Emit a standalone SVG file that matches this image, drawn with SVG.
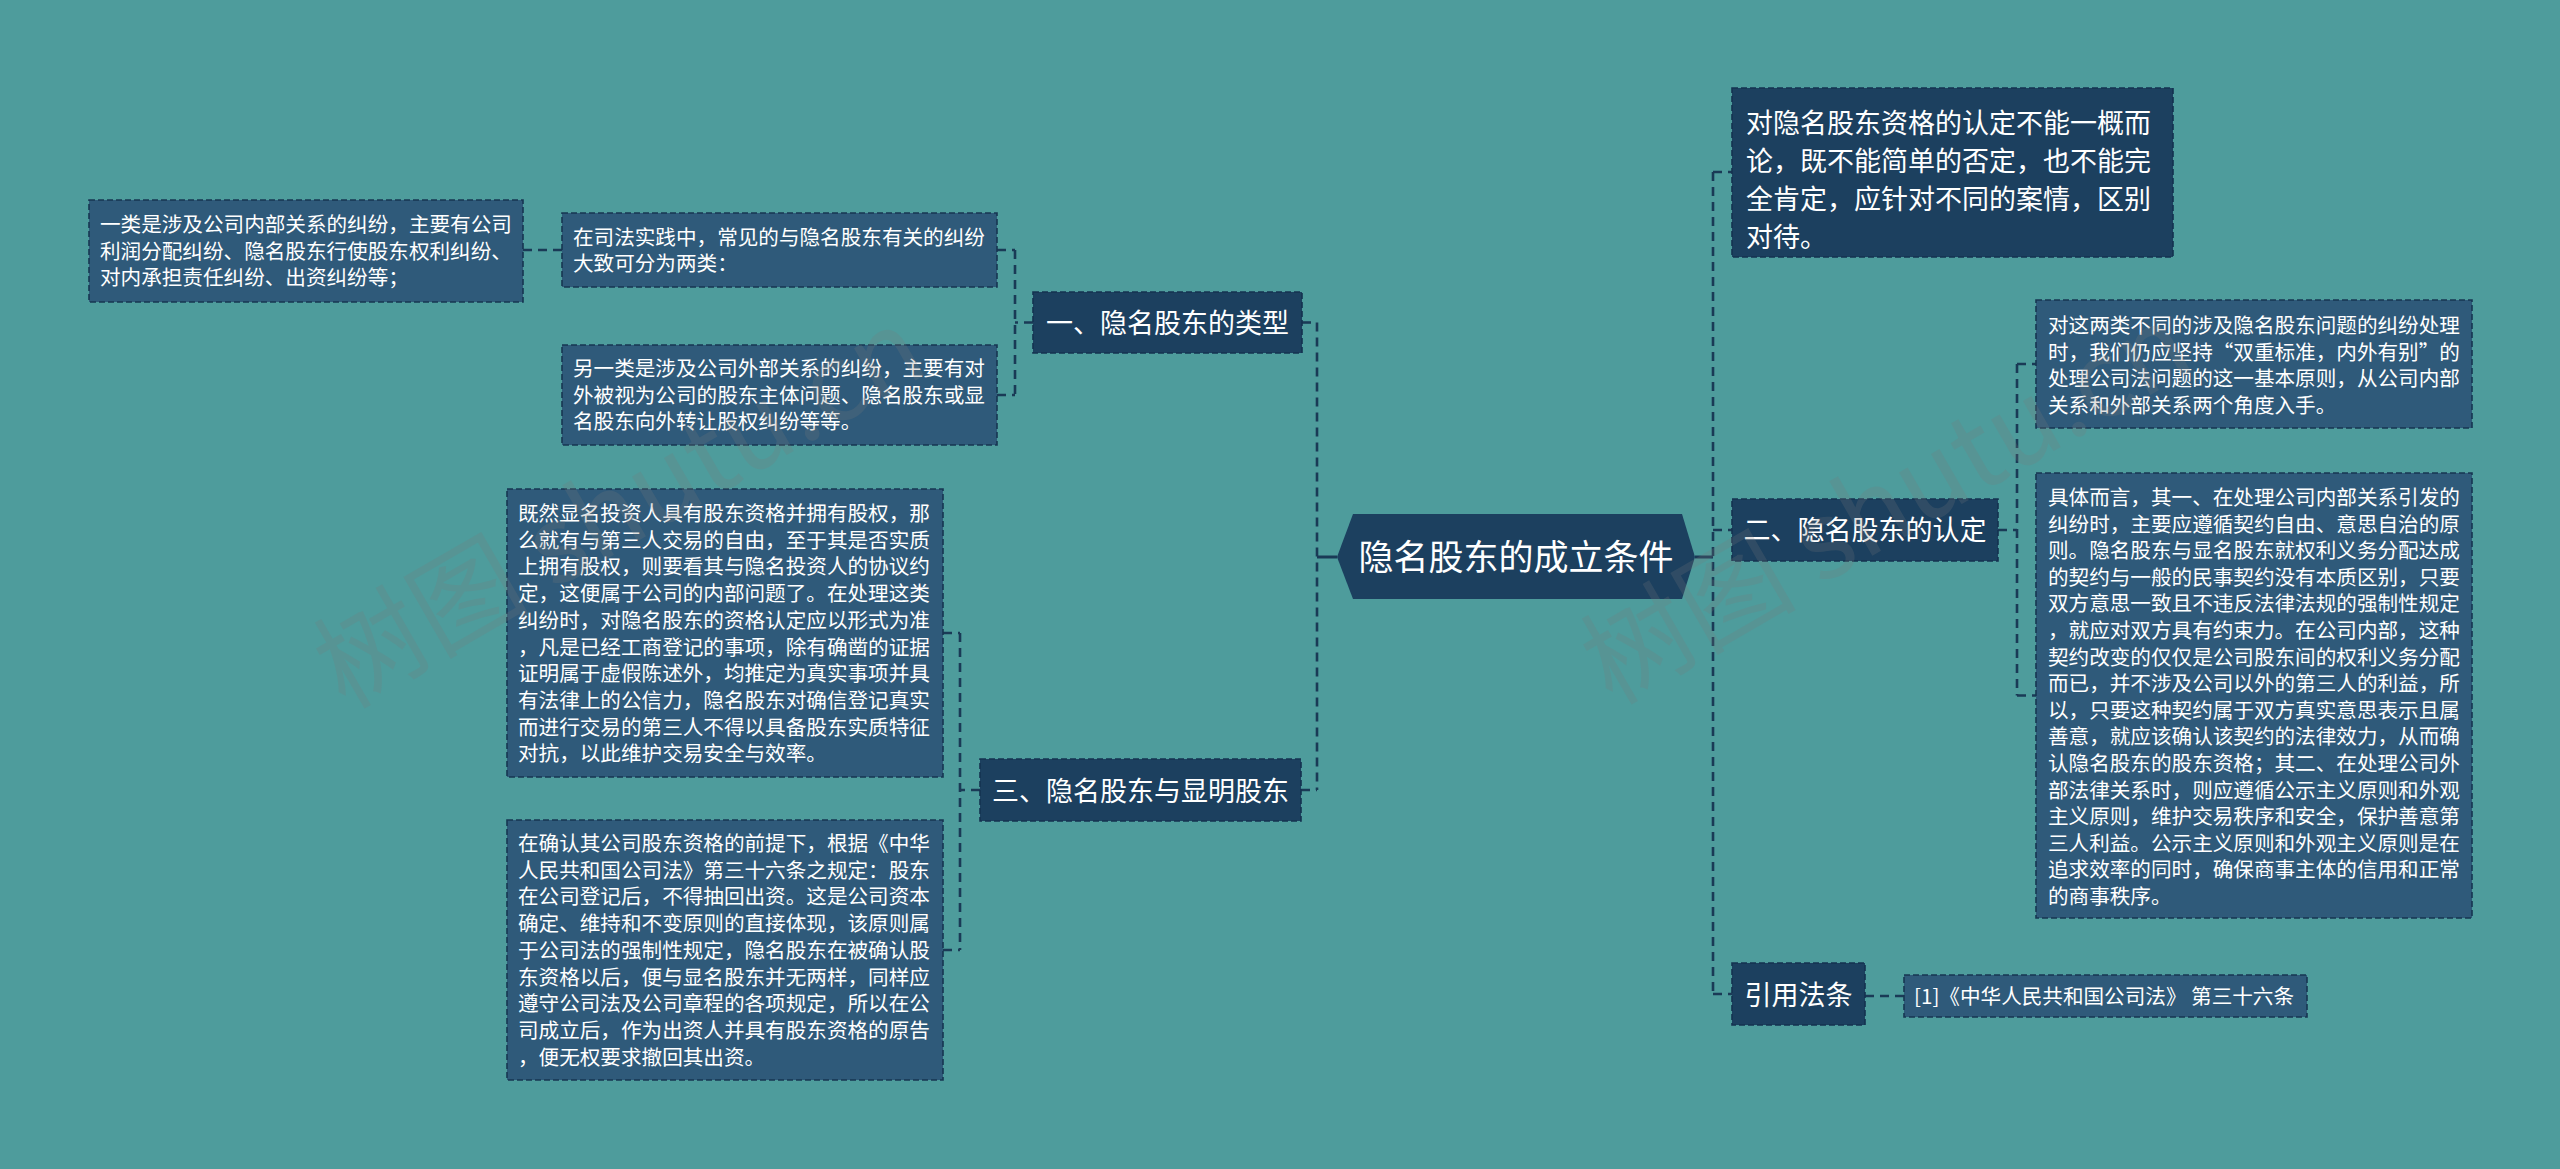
<svg xmlns="http://www.w3.org/2000/svg" width="2560" height="1169" viewBox="0 0 2560 1169">
<style>
.bg{fill:#4e9c9c}
.lvl1{fill:#1c405f;stroke:#143250;stroke-width:1.6;stroke-dasharray:6 3}
.leaf{fill:#2f5a7a;stroke:#173652;stroke-width:1.6;stroke-dasharray:6 3}
.con{fill:none;stroke:#1a3a56;stroke-width:2.6;stroke-dasharray:9 6}
.solid{fill:none;stroke:#1a3a56;stroke-width:3}
.t{font-family:"Noto Sans CJK SC","Microsoft YaHei",sans-serif;fill:#ffffff}
.s{font-size:20.6px}
.m{font-size:27px}
.wm{font-family:"Noto Sans CJK SC",sans-serif;font-size:108px;fill:#7a7a7a;opacity:0.22}
</style>
<rect class="bg" x="0" y="0" width="2560" height="1169"/>

<g id="connectors">
  <path class="solid" d="M1337 557 H1317"/>
  <path class="con" d="M1317 322.5 V790"/>
  <path class="con" d="M1302 322.5 H1317"/>
  <path class="con" d="M1301 790 H1317"/>
  <path class="con" d="M1015 250 V395"/>
  <path class="con" d="M1033 322.5 H1015"/>
  <path class="con" d="M997 250 H1015"/>
  <path class="con" d="M997 395 H1015"/>
  <path class="con" d="M562 250 H523"/>
  <path class="con" d="M960 633 V950"/>
  <path class="con" d="M980 790 H960"/>
  <path class="con" d="M943 633 H960"/>
  <path class="con" d="M943 950 H960"/>
  <path class="solid" d="M1695 557 H1713"/>
  <path class="con" d="M1713 172 V994"/>
  <path class="con" d="M1713 172 H1732"/>
  <path class="con" d="M1713 530 H1732"/>
  <path class="con" d="M1713 994 H1732"/>
  <path class="con" d="M1998 530 H2017"/>
  <path class="con" d="M2017 364 V695.5"/>
  <path class="con" d="M2017 364 H2036"/>
  <path class="con" d="M2017 695.5 H2036"/>
  <path class="con" d="M1865 996 H1904"/>
</g>

<g id="center">
  <polygon points="1337,557 1353,514 1682,514 1695,557 1682,599 1353,599" fill="#1c405f"/>
  <text class="t" x="1516" y="570" font-size="35" text-anchor="middle">隐名股东的成立条件</text>
</g>

<g id="n1">
  <rect class="lvl1" x="1033" y="292" width="269" height="61"/>
  <text class="t m" x="1167.5" y="333" text-anchor="middle">一、隐名股东的类型</text>
</g>

<g id="n1a">
  <rect class="leaf" x="562" y="213" width="435" height="74"/>
  <text class="t s" x="573" y="244.5">在司法实践中，常见的与隐名股东有关的纠纷<tspan x="573" dy="26.7">大致可分为两类：</tspan></text>
</g>

<g id="n1a1">
  <rect class="leaf" x="89" y="200" width="434" height="102"/>
  <text class="t s" x="100" y="232">一类是涉及公司内部关系的纠纷，主要有公司<tspan x="100" dy="26.7">利润分配纠纷、隐名股东行使股东权利纠纷、</tspan><tspan x="100" dy="26.7">对内承担责任纠纷、出资纠纷等；</tspan></text>
</g>

<g id="n1b">
  <rect class="leaf" x="562" y="345" width="435" height="100"/>
  <text class="t s" x="573" y="376">另一类是涉及公司外部关系的纠纷，主要有对<tspan x="573" dy="26.7">外被视为公司的股东主体问题、隐名股东或显</tspan><tspan x="573" dy="26.7">名股东向外转让股权纠纷等等。</tspan></text>
</g>

<g id="n3">
  <rect class="lvl1" x="980" y="759" width="321" height="62"/>
  <text class="t m" x="1140.5" y="800.5" text-anchor="middle">三、隐名股东与显明股东</text>
</g>

<g id="n3a">
  <rect class="leaf" x="507" y="489" width="436" height="288"/>
  <text class="t s" x="518" y="521">既然显名投资人具有股东资格并拥有股权，那<tspan x="518" dy="26.7">么就有与第三人交易的自由，至于其是否实质</tspan><tspan x="518" dy="26.7">上拥有股权，则要看其与隐名投资人的协议约</tspan><tspan x="518" dy="26.7">定，这便属于公司的内部问题了。在处理这类</tspan><tspan x="518" dy="26.7">纠纷时，对隐名股东的资格认定应以形式为准</tspan><tspan x="518" dy="26.7">，凡是已经工商登记的事项，除有确凿的证据</tspan><tspan x="518" dy="26.7">证明属于虚假陈述外，均推定为真实事项并具</tspan><tspan x="518" dy="26.7">有法律上的公信力，隐名股东对确信登记真实</tspan><tspan x="518" dy="26.7">而进行交易的第三人不得以具备股东实质特征</tspan><tspan x="518" dy="26.7">对抗，以此维护交易安全与效率。</tspan></text>
</g>

<g id="n3b">
  <rect class="leaf" x="507" y="820" width="436" height="260"/>
  <text class="t s" x="518" y="851">在确认其公司股东资格的前提下，根据《中华<tspan x="518" dy="26.7">人民共和国公司法》第三十六条之规定：股东</tspan><tspan x="518" dy="26.7">在公司登记后，不得抽回出资。这是公司资本</tspan><tspan x="518" dy="26.7">确定、维持和不变原则的直接体现，该原则属</tspan><tspan x="518" dy="26.7">于公司法的强制性规定，隐名股东在被确认股</tspan><tspan x="518" dy="26.7">东资格以后，便与显名股东并无两样，同样应</tspan><tspan x="518" dy="26.7">遵守公司法及公司章程的各项规定，所以在公</tspan><tspan x="518" dy="26.7">司成立后，作为出资人并具有股东资格的原告</tspan><tspan x="518" dy="26.7">，便无权要求撤回其出资。</tspan></text>
</g>

<g id="r1">
  <rect class="lvl1" x="1732" y="88" width="441" height="169"/>
  <text class="t m" x="1746" y="133">对隐名股东资格的认定不能一概而<tspan x="1746" dy="38">论，既不能简单的否定，也不能完</tspan><tspan x="1746" dy="38">全肯定，应针对不同的案情，区别</tspan><tspan x="1746" dy="38">对待。</tspan></text>
</g>

<g id="r2">
  <rect class="lvl1" x="1732" y="499" width="266" height="62"/>
  <text class="t m" x="1865" y="540" text-anchor="middle">二、隐名股东的认定</text>
</g>

<g id="r2a">
  <rect class="leaf" x="2036" y="300" width="436" height="128"/>
  <text class="t s" x="2048" y="333">对这两类不同的涉及隐名股东问题的纠纷处理<tspan x="2048" dy="26.7">时，我们仍应坚持“双重标准，内外有别”的</tspan><tspan x="2048" dy="26.7">处理公司法问题的这一基本原则，从公司内部</tspan><tspan x="2048" dy="26.7">关系和外部关系两个角度入手。</tspan></text>
</g>

<g id="r2b">
  <rect class="leaf" x="2036" y="473" width="436" height="445"/>
  <text class="t s" x="2048" y="505">具体而言，其一、在处理公司内部关系引发的<tspan x="2048" dy="26.6">纠纷时，主要应遵循契约自由、意思自治的原</tspan><tspan x="2048" dy="26.6">则。隐名股东与显名股东就权利义务分配达成</tspan><tspan x="2048" dy="26.6">的契约与一般的民事契约没有本质区别，只要</tspan><tspan x="2048" dy="26.6">双方意思一致且不违反法律法规的强制性规定</tspan><tspan x="2048" dy="26.6">，就应对双方具有约束力。在公司内部，这种</tspan><tspan x="2048" dy="26.6">契约改变的仅仅是公司股东间的权利义务分配</tspan><tspan x="2048" dy="26.6">而已，并不涉及公司以外的第三人的利益，所</tspan><tspan x="2048" dy="26.6">以，只要这种契约属于双方真实意思表示且属</tspan><tspan x="2048" dy="26.6">善意，就应该确认该契约的法律效力，从而确</tspan><tspan x="2048" dy="26.6">认隐名股东的股东资格；其二、在处理公司外</tspan><tspan x="2048" dy="26.6">部法律关系时，则应遵循公示主义原则和外观</tspan><tspan x="2048" dy="26.6">主义原则，维护交易秩序和安全，保护善意第</tspan><tspan x="2048" dy="26.6">三人利益。公示主义原则和外观主义原则是在</tspan><tspan x="2048" dy="26.6">追求效率的同时，确保商事主体的信用和正常</tspan><tspan x="2048" dy="26.6">的商事秩序。</tspan></text>
</g>

<g id="r3">
  <rect class="lvl1" x="1732" y="963" width="133" height="62"/>
  <text class="t m" x="1798.5" y="1004.5" text-anchor="middle">引用法条</text>
</g>

<g id="r3a">
  <rect class="leaf" x="1904" y="975" width="403" height="42"/>
  <text class="t s" x="1914" y="1003.5">[1]《中华人民共和国公司法》 第三十六条</text>
</g>

<g id="watermark">
  <text class="wm" transform="translate(345 710) rotate(-30)">树图 shutu.cn</text>
  <text class="wm" transform="translate(1612 706) rotate(-30)">树图 shutu.cn</text>
</g>
</svg>
